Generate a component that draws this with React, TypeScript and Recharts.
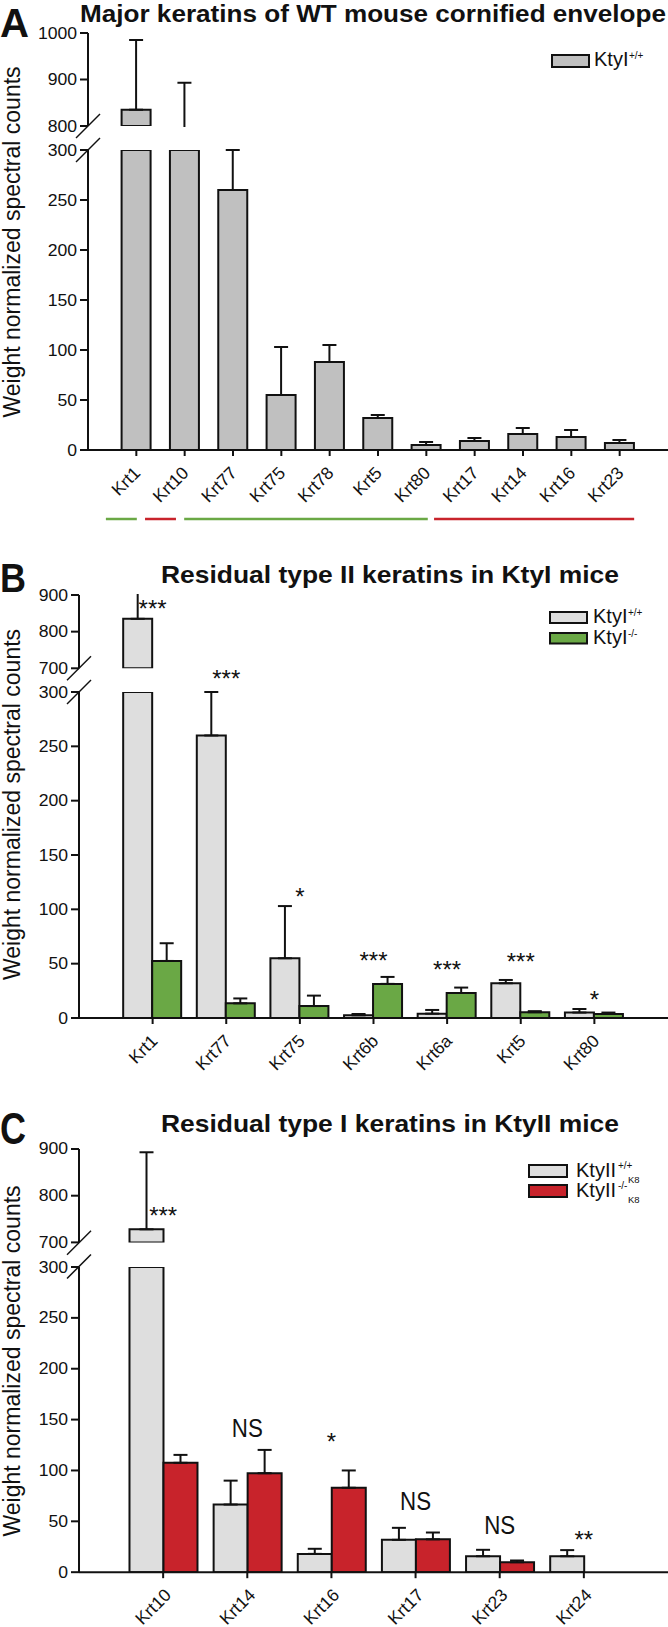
import React from "react";
import { BarChart, Bar, XAxis, YAxis, ErrorBar, ReferenceDot, Rectangle } from "recharts";

const FONT = '"Liberation Sans", Arial, Helvetica, sans-serif';
const W = 668;
const H = 1627;
const INK = "#111";
const GRAY_A = "#c0c0c0";
const GRAY_WT = "#dedede";
const GREEN = "#6aa845";
const RED = "#c8232b";

// Panel A – Ktyl+/+ cornified envelope
const catsA = ["Krt1", "Krt10", "Krt77", "Krt75", "Krt78", "Krt5", "Krt80", "Krt17", "Krt14", "Krt16", "Krt23"];
const wtA = [835, 728, 260, 55, 88, 32, 5, 9, 16, 13, 7];
const wtErrA = [150, 165, 40, 48, 17, 3, 3, 3, 6, 7, 3];

// Panel B – type II keratins, Ktyl+/+ vs Ktyl-/-
const catsB = ["Krt1", "Krt77", "Krt75", "Krt6b", "Krt6a", "Krt5", "Krt80"];
const wtB = [835, 260, 55, 2.5, 4, 32, 5];
const wtErrB = [150, 40, 48, 1.2, 3.4, 3, 3.3];
const koB = [52.5, 13.5, 11, 31.4, 23, 5.3, 3.7];
const koErrB = [16.3, 4.5, 9.6, 6.4, 5, 1, 1.3];
const sigB = ["***", "***", "*", "***", "***", "***", "*"];
const sigLevelB = [877, 317, 117, 58, 50, 57, 22];

// Panel C – type I keratins, KtyII+/+K8 vs KtyII-/-K8
const catsC = ["Krt10", "Krt14", "Krt16", "Krt17", "Krt23", "Krt24"];
const wtC = [728, 66.5, 18, 31.8, 15.7, 15.7];
const wtErrC = [165, 23.5, 5, 11.8, 6.3, 6];
const koC = [107.5, 97.3, 83, 32.3, 9.8, 0];
const koErrC = [7.8, 22.9, 17, 6.7, 1.7, 1];
const sigC = ["***", "NS", "*", "NS", "NS", "**"];
const sigLevelC = [770, 142, 134, 70, 46, 37];

const ticksLow = [0, 50, 100, 150, 200, 250, 300];
const ticksHighA = [800, 900, 1000];
const ticksHigh = [700, 800, 900];

// coloured bars under panel A (in category-slot units from the y axis)
const groupsA = [
  { from: 0.37, to: 1.01, color: GREEN },
  { from: 1.18, to: 1.82, color: RED },
  { from: 1.99, to: 7.03, color: GREEN },
  { from: 7.16, to: 11.3, color: RED },
];

type SegCfg = { top: number; h: number; domain: [number, number]; ticks: number[] };
type Series = { key: string; mean: number[]; err: number[]; fill: string };
type PanelCfg = {
  axisX: number;
  gap: string;
  labelDx: number;
  cats: string[];
  series: Series[];
  hi: SegCfg;
  lo: SegCfg;
  sig?: string[];
  sigLevel?: number[];
};

const panelA: PanelCfg = {
  axisX: 88,
  gap: "19.5%",
  labelDx: 5,
  cats: catsA,
  series: [{ key: "wt", mean: wtA, err: wtErrA, fill: GRAY_A }],
  hi: { top: 33, h: 93, domain: [800, 1000], ticks: ticksHighA },
  lo: { top: 150, h: 300, domain: [0, 300], ticks: ticksLow },
};

const panelB: PanelCfg = {
  axisX: 79,
  gap: "10%",
  labelDx: 6,
  cats: catsB,
  series: [
    { key: "wt", mean: wtB, err: wtErrB, fill: GRAY_WT },
    { key: "ko", mean: koB, err: koErrB, fill: GREEN },
  ],
  hi: { top: 595, h: 73.3, domain: [700, 900], ticks: ticksHigh },
  lo: { top: 692, h: 326, domain: [0, 300], ticks: ticksLow },
  sig: sigB,
  sigLevel: sigLevelB,
};

const panelC: PanelCfg = {
  axisX: 79,
  gap: "10%",
  labelDx: 9,
  cats: catsC,
  series: [
    { key: "wt", mean: wtC, err: wtErrC, fill: GRAY_WT },
    { key: "ko", mean: koC, err: koErrC, fill: RED },
  ],
  hi: { top: 1149.3, h: 93.4, domain: [700, 900], ticks: ticksHigh },
  lo: { top: 1266.5, h: 305.2, domain: [0, 300], ticks: ticksLow },
  sig: sigC,
  sigLevel: sigLevelC,
};

const MT = 40;
const XH = 70;
const line = { stroke: INK, strokeWidth: 2 };

function YTick(props: any) {
  const { x, y, payload } = props;
  return (
    <text
      transform={`translate(${x},${y}) scale(1.1,1)`}
      textAnchor="end"
      dy={5.5}
      fontSize={16}
      fontFamily={FONT}
      fill={INK}
    >
      {payload.value}
    </text>
  );
}

function XTick(props: any) {
  const { x, y, payload, dx0 } = props;
  return (
    <text
      transform={`translate(${x + dx0},${y + 16}) rotate(-45)`}
      textAnchor="end"
      fontSize={17.5}
      fontFamily={FONT}
      fill={INK}
    >
      {payload.value}
    </text>
  );
}

// upper segment: the bar only shows when it rises above the break
const hideBelow = (key: string, floor: number) => (p: any) => {
  const v = p.payload?.[key];
  if (v == null || v <= floor) return <g />;
  return <Rectangle {...p} />;
};

const noteShape = (label: string) => (p: any) => {
  const ns = label === "NS";
  const fs = ns ? 25 : 24;
  return (
    <text
      x={p.cx}
      y={p.cy + (ns ? 0.36 : 0.58) * fs}
      textAnchor="middle"
      fontSize={fs}
      fontFamily={FONT}
      fill={INK}
      textLength={ns ? 31 : undefined}
      lengthAdjust="spacingAndGlyphs"
    >
      {label}
    </text>
  );
};

function buildRows(p: PanelCfg, seg: SegCfg, upper: boolean) {
  const [dLo, dHi] = seg.domain;
  return p.cats.map((cat, i) => {
    const row: Record<string, any> = { cat };
    p.series.forEach((s) => {
      const v = s.mean[i];
      const e = s.err[i];
      if (upper) {
        const on = v + e >= dLo;
        row[s.key] = on ? v : null;
        row[s.key + "Err"] = on ? [0, e] : null;
      } else {
        row[s.key] = Math.min(v, dHi);
        row[s.key + "Err"] = v >= dHi ? null : [0, Math.min(e, dHi - v)];
      }
    });
    return row;
  });
}

function Marks({ p, upper, floor }: { p: PanelCfg; upper: boolean; floor: number }) {
  return (
    <>
      {p.series.map((s) => (
        <Bar
          key={s.key}
          dataKey={s.key}
          fill={s.fill}
          stroke={INK}
          strokeWidth={2}
          isAnimationActive={false}
          shape={upper ? hideBelow(s.key, floor) : undefined}
        >
          <ErrorBar dataKey={s.key + "Err"} width={7} strokeWidth={2} stroke={INK} direction="y" />
        </Bar>
      ))}
    </>
  );
}

function notesFor(p: PanelCfg, upper: boolean) {
  return (p.sig ?? [])
    .map((label, i) => ({ label, cat: p.cats[i], level: p.sigLevel![i] }))
    .filter((n) => n.level >= p.hi.domain[0] === upper)
    .map((n) => (
      <ReferenceDot key={n.cat} x={n.cat} y={n.level} r={1} ifOverflow="visible" shape={noteShape(n.label)} />
    ));
}

// lower segment: bars clipped at 300, with the category axis
function Lower({ p }: { p: PanelCfg }) {
  const seg = p.lo;
  const pad = (W - p.axisX) / (p.cats.length + 1) / 2;
  const rows = buildRows(p, seg, false);
  return (
    <div style={{ position: "absolute", left: 0, top: seg.top - MT }}>
      <BarChart
        width={W}
        height={MT + seg.h + XH}
        data={rows}
        margin={{ top: MT, right: 0, bottom: 0, left: 0 }}
        barCategoryGap={p.gap}
        barGap={0}
      >
        <XAxis
          dataKey="cat"
          type="category"
          height={XH}
          padding={{ left: pad, right: pad }}
          interval={0}
          tick={<XTick dx0={p.labelDx} />}
          tickSize={6}
          tickMargin={2}
          axisLine={line}
          tickLine={line}
        />
        <YAxis
          type="number"
          domain={seg.domain}
          ticks={seg.ticks}
          allowDataOverflow
          width={p.axisX}
          interval={0}
          tick={<YTick />}
          tickSize={8}
          tickMargin={3}
          axisLine={line}
          tickLine={line}
        />
        {Marks({ p, upper: false, floor: 0 })}
        {notesFor(p, false)}
      </BarChart>
    </div>
  );
}

// upper segment: axis drawn in one chart, marks in a second chart whose svg
// is just the plot box so anything past the break is cut off
function Upper({ p }: { p: PanelCfg }) {
  const seg = p.hi;
  const pad = (W - p.axisX) / (p.cats.length + 1) / 2;
  const rows = buildRows(p, seg, true);
  return (
    <>
      <div style={{ position: "absolute", left: 0, top: seg.top - MT }}>
        <BarChart width={W} height={MT + seg.h + 14} data={rows} margin={{ top: MT, right: 0, bottom: 14, left: 0 }}>
          <XAxis dataKey="cat" type="category" hide padding={{ left: pad, right: pad }} />
          <YAxis
            type="number"
            domain={seg.domain}
            ticks={seg.ticks}
            allowDataOverflow
            width={p.axisX}
            interval={0}
            tick={<YTick />}
            tickSize={8}
            tickMargin={3}
            axisLine={line}
            tickLine={line}
          />
        </BarChart>
      </div>
      <div style={{ position: "absolute", left: 0, top: seg.top - 1 }}>
        <BarChart
          width={W}
          height={seg.h + 2}
          data={rows}
          margin={{ top: 1, right: 0, bottom: 1, left: p.axisX }}
          barCategoryGap={p.gap}
          barGap={0}
        >
          <XAxis dataKey="cat" type="category" hide padding={{ left: pad, right: pad }} />
          <YAxis type="number" hide domain={seg.domain} allowDataOverflow />
          {Marks({ p, upper: true, floor: seg.domain[0] })}
          {notesFor(p, true)}
        </BarChart>
      </div>
    </>
  );
}

function Slashes({ p }: { p: PanelCfg }) {
  const ys = [p.hi.top + p.hi.h, p.lo.top];
  return (
    <g>
      {ys.map((y) => (
        <line key={y} x1={p.axisX - 12} y1={y + 12} x2={p.axisX + 12} y2={y - 12} stroke={INK} strokeWidth={1.5} />
      ))}
    </g>
  );
}

function YTitle({ y }: { y: number }) {
  return (
    <text transform={`translate(20,${y}) rotate(-90)`} textAnchor="middle" fontSize={23} fontFamily={FONT} fill={INK}>
      Weight normalized spectral counts
    </text>
  );
}

export default function App() {
  const slotA = (W - panelA.axisX) / (catsA.length + 1);
  return (
    <div
      style={{
        position: "absolute",
        left: 0,
        top: 0,
        width: W,
        height: H,
        overflow: "hidden",
        background: "#fff",
        fontFamily: FONT,
      }}
    >
      <Upper p={panelA} />
      <Lower p={panelA} />
      <Upper p={panelB} />
      <Lower p={panelB} />
      <Upper p={panelC} />
      <Lower p={panelC} />

      <svg width={W} height={H} style={{ position: "absolute", left: 0, top: 0, pointerEvents: "none" }}>
        {/* panel letters */}
        <text x={0} y={37} fontSize={40} fontWeight="bold" fontFamily={FONT} fill={INK} textLength={29} lengthAdjust="spacingAndGlyphs">A</text>
        <text x={0} y={592} fontSize={41} fontWeight="bold" fontFamily={FONT} fill={INK} textLength={26} lengthAdjust="spacingAndGlyphs">B</text>
        <text x={0} y={1144} fontSize={44} fontWeight="bold" fontFamily={FONT} fill={INK} textLength={26} lengthAdjust="spacingAndGlyphs">C</text>

        {/* titles */}
        <text x={80} y={22} fontSize={23} fontWeight="bold" fontFamily={FONT} fill={INK} textLength={586} lengthAdjust="spacingAndGlyphs">
          Major keratins of WT mouse cornified envelope
        </text>
        <text x={161} y={583} fontSize={24} fontWeight="bold" fontFamily={FONT} fill={INK} textLength={458} lengthAdjust="spacingAndGlyphs">
          Residual type II keratins in KtyI mice
        </text>
        <text x={161} y={1132} fontSize={24} fontWeight="bold" fontFamily={FONT} fill={INK} textLength={458} lengthAdjust="spacingAndGlyphs">
          Residual type I keratins in KtyII mice
        </text>

        <YTitle y={242} />
        <YTitle y={804.5} />
        <YTitle y={1361} />

        <Slashes p={panelA} />
        <Slashes p={panelB} />
        <Slashes p={panelC} />

        {/* group bars under panel A */}
        {groupsA.map((g, i) => (
          <line
            key={i}
            x1={panelA.axisX + g.from * slotA}
            x2={panelA.axisX + g.to * slotA}
            y1={519}
            y2={519}
            stroke={g.color}
            strokeWidth={2.5}
          />
        ))}

        {/* legend A */}
        <rect x={552} y={55} width={37} height={12} fill={GRAY_A} stroke={INK} strokeWidth={2} />
        <text x={594} y={66} fontSize={20} fontFamily={FONT} fill={INK}>KtyI</text>
        <text x={629} y={59} fontSize={10} fontFamily={FONT} fill={INK}>+/+</text>

        {/* legend B */}
        <rect x={550} y={612} width={37} height={11} fill={GRAY_WT} stroke={INK} strokeWidth={2} />
        <text x={593} y={623} fontSize={20} fontFamily={FONT} fill={INK}>KtyI</text>
        <text x={628} y={616} fontSize={10} fontFamily={FONT} fill={INK}>+/+</text>
        <rect x={550} y={633} width={37} height={10.5} fill={GREEN} stroke={INK} strokeWidth={2} />
        <text x={593} y={644} fontSize={20} fontFamily={FONT} fill={INK}>KtyI</text>
        <text x={628} y={637} fontSize={10} fontFamily={FONT} fill={INK}>-/-</text>

        {/* legend C */}
        <rect x={529} y={1165} width={38} height={12} fill={GRAY_WT} stroke={INK} strokeWidth={2} />
        <text x={576} y={1177} fontSize={20} fontFamily={FONT} fill={INK}>KtyII</text>
        <text x={618} y={1169} fontSize={10} fontFamily={FONT} fill={INK}>+/+</text>
        <text x={628} y={1183} fontSize={9.5} fontFamily={FONT} fill={INK}>K8</text>
        <rect x={529} y={1185} width={38} height={12} fill={RED} stroke={INK} strokeWidth={2} />
        <text x={576} y={1197} fontSize={20} fontFamily={FONT} fill={INK}>KtyII</text>
        <text x={618} y={1189} fontSize={10} fontFamily={FONT} fill={INK}>-/-</text>
        <text x={628} y={1203} fontSize={9.5} fontFamily={FONT} fill={INK}>K8</text>
      </svg>
    </div>
  );
}
